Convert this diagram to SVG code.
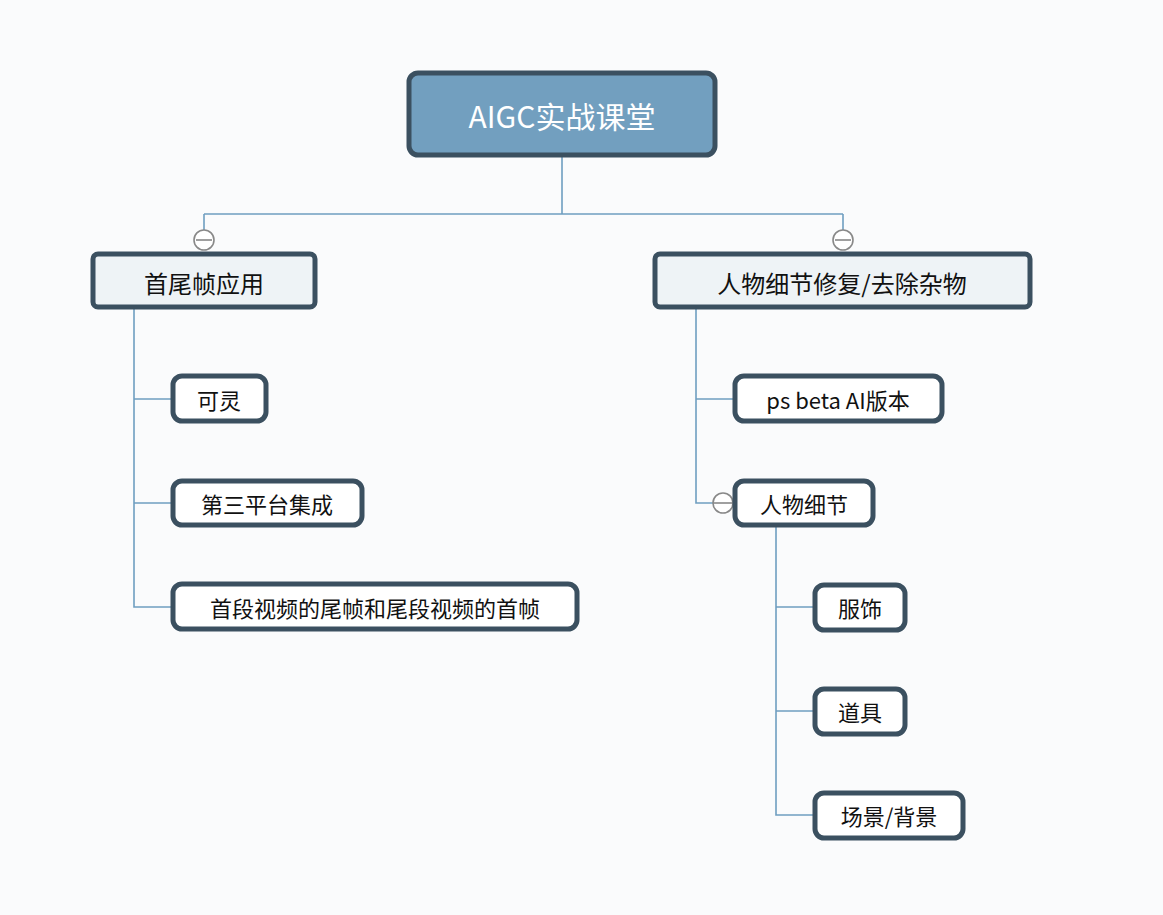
<svg xmlns="http://www.w3.org/2000/svg" width="1163" height="915" viewBox="0 0 1163 915">
<style>
text{font-family:"Noto Sans CJK SC","Noto Sans",sans-serif;text-anchor:middle;dominant-baseline:central;fill:#111}
.l1{fill:#eef3f6;stroke:#3b5060;stroke-width:5}
.l2{fill:#fff;stroke:#3b5060;stroke-width:5}
.c{fill:none;stroke:#6f9ec0;stroke-width:1.6}
.t{fill:#fff;stroke:#888;stroke-width:1.6}
</style>
<rect width="1163" height="915" fill="#fafbfc"/>
<g id="connectors">
<path class="c" d="M562 155V214M204 214H843M204 214V230M843 214V230M134 307V607H173M134 399H173M134 503H173M696 307V503H735M696 399H735M776 525V815H815M776 607H815M776 711H815"/>
<g><circle class="t" cx="204" cy="240" r="10"/><path d="M196 240H212" stroke="#888" stroke-width="1.6"/></g>
<g><circle class="t" cx="843" cy="240" r="10"/><path d="M835 240H851" stroke="#888" stroke-width="1.6"/></g>
<g><circle class="t" cx="723" cy="503" r="10"/><path d="M713 503H735" stroke="#888" stroke-width="1.6"/></g>
</g>
<g id="root"><rect x="409" y="73" width="306" height="82" rx="9" fill="#729fbf" stroke="#3b5060" stroke-width="5"/><text x="562" y="115" font-size="30" style="fill:#fff">AIGC实战课堂</text></g>
<g id="n1"><rect class="l1" x="93" y="254" width="222" height="53" rx="5"/><text x="204" y="282" font-size="24">首尾帧应用</text></g>
<g id="n2"><rect class="l1" x="655" y="254" width="375" height="53" rx="5"/><text x="842" y="282" font-size="24">人物细节修复/去除杂物</text></g>
<g id="n3"><rect class="l2" x="173" y="376" width="93" height="45" rx="9"/><text x="219" y="399" font-size="22">可灵</text></g>
<g id="n4"><rect class="l2" x="173" y="481" width="189" height="44" rx="9"/><text x="267" y="503" font-size="22">第三平台集成</text></g>
<g id="n5"><rect class="l2" x="173" y="584" width="404" height="45" rx="9"/><text x="375" y="607" font-size="22">首段视频的尾帧和尾段视频的首帧</text></g>
<g id="n6"><rect class="l2" x="735" y="376" width="207" height="45" rx="9"/><text x="838" y="399" font-size="22">ps beta AI版本</text></g>
<g id="n7"><rect class="l2" x="735" y="481" width="138" height="44" rx="9"/><text x="804" y="503" font-size="22">人物细节</text></g>
<g id="n8"><rect class="l2" x="815" y="585" width="90" height="45" rx="9"/><text x="860" y="607" font-size="22">服饰</text></g>
<g id="n9"><rect class="l2" x="815" y="689" width="90" height="45" rx="9"/><text x="860" y="711" font-size="22">道具</text></g>
<g id="n10"><rect class="l2" x="815" y="793" width="148" height="45" rx="9"/><text x="889" y="815" font-size="22">场景/背景</text></g>
</svg>
